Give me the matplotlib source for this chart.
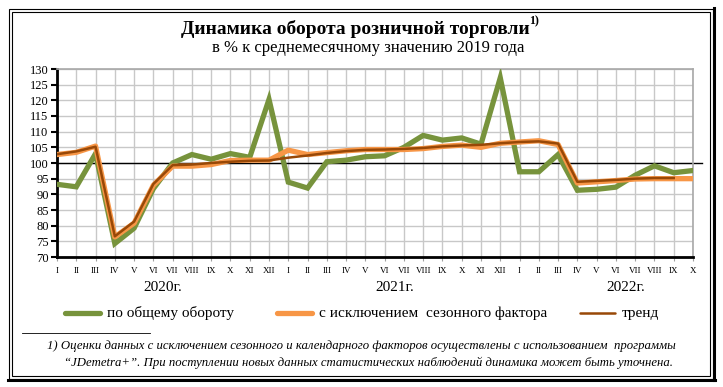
import matplotlib
matplotlib.use("Agg")
import matplotlib.pyplot as plt
from matplotlib.lines import Line2D
from matplotlib.patches import Rectangle

plt.rcParams['font.family'] = ['Liberation Serif', 'DejaVu Serif']

# months I 2020 .. X 2022
months = ["I", "II", "III", "IV", "V", "VI", "VII", "VIII", "IX", "X", "XI", "XII"]
tick_labels = months + months + months[:10]
years = ["2020г.", "2021г.", "2022г."]

total = [93.2, 92.4, 103.0, 74.3, 79.2, 91.8, 100.0, 102.7, 101.2, 103.0, 101.8, 120.3,
         93.9, 92.0, 100.4, 100.9, 102.0, 102.3, 105.0, 108.8, 107.3, 108.0, 106.0, 127.2,
         97.2, 97.2, 102.7, 91.3, 91.6, 92.3, 96.1, 99.1, 96.9, 97.6]
seasonal = [102.7, 103.4, 105.4, 76.4, 80.8, 92.9, 99.0, 99.0, 99.5, 100.8, 100.9, 100.9,
            104.1, 102.7, 103.3, 103.9, 104.3, 104.3, 104.3, 104.6, 105.3, 105.7, 105.0, 106.3,
            106.7, 107.1, 105.9, 93.6, 94.0, 94.4, 94.9, 95.0, 95.0, 95.0]
trend = [102.8, 103.7, 105.2, 76.6, 81.3, 93.3, 99.3, 99.5, 100.0, 100.4, 100.7, 100.8,
         101.7, 102.4, 103.2, 103.8, 104.2, 104.3, 104.5, 104.8, 105.3, 105.6, 105.8, 106.3,
         106.7, 106.9, 106.2, 94.0, 94.3, 94.6, 95.0, 95.2, 95.2]

GREEN = "#77933C"
ORANGE = "#F79646"
BROWN = "#984807"

fig = plt.figure(figsize=(7.23, 3.87), dpi=100)
ax = fig.add_axes([57 / 723, 1 - 257 / 387, 636 / 723, 188 / 387])

x = list(range(len(total)))
ax.plot(x, total, color=GREEN, lw=3.8, solid_joinstyle='miter', zorder=3)
ax.plot(x, seasonal, color=ORANGE, lw=3.8, zorder=4)
ax.plot(range(len(trend)), trend, color=BROWN, lw=1.8, zorder=5)

ax.plot([0, 33.45], [100, 100], color='black', lw=1.0, clip_on=False, zorder=2)

ax.set_xlim(0, len(total) - 1)
ax.set_ylim(70, 130)
ax.set_yticks(range(70, 131, 5))
ax.set_xticks(x)
ax.set_xticklabels(tick_labels, fontsize=6.5)
ax.tick_params(axis='x', length=3, color='#A0A0A0', pad=4)
ax.tick_params(axis='y', length=4, width=1.5, labelsize=9, pad=2)
ax.grid(True, color='#C8C8C8', lw=1.0, zorder=0)
ax.set_axisbelow(True)
for s in ['top', 'right']:
    ax.spines[s].set_color('#A8A8A8')
    ax.spines[s].set_linewidth(1.2)
for s in ['left', 'bottom']:
    ax.spines[s].set_color('black')
    ax.spines[s].set_linewidth(2.0)

# year labels
for i, yr in enumerate(years):
    ax.text(5.5 + 12 * i, -0.16, yr, transform=ax.get_xaxis_transform(),
            ha='center', va='center', fontsize=11)

# titles
fig.text(355 / 723, 1 - 29 / 387, "Динамика оборота розничной торговли",
         ha='center', va='center', fontsize=14, fontweight='bold')
fig.text(529 / 723, 1 - 21 / 387, "1)", ha='left', va='center',
         fontsize=8.5, fontweight='bold')
fig.text(368 / 723, 1 - 48 / 387, "в % к среднемесячному значению 2019 года",
         ha='center', va='center', fontsize=12)

# legend
leg_y = 1 - 313 / 387
entries = [(GREEN, 3.8, 65, "по общему обороту"),
           (ORANGE, 3.8, 277, "с исключением  сезонного фактора"),
           (BROWN, 1.8, 580, "тренд")]
for color, lw, x0, label in entries:
    fig.add_artist(Line2D([x0 / 723, (x0 + 35) / 723], [leg_y, leg_y],
                          color=color, lw=lw, solid_capstyle='round'))
    fig.text((x0 + 42) / 723, leg_y, label, ha='left', va='center', fontsize=11)

# footnote
fig.add_artist(Line2D([22 / 723, 150 / 723], [1 - 333 / 387, 1 - 333 / 387],
                      color='black', lw=0.6))
fig.text(361 / 723, 1 - 346 / 387,
         "1) Оценки данных с исключением сезонного и календарного факторов осуществлены с использованием  программы",
         ha='center', va='center', fontsize=9.2, style='italic')
fig.text(368 / 723, 1 - 363 / 387,
         "“JDemetra+”. При поступлении новых данных статистических наблюдений динамика может быть уточнена.",
         ha='center', va='center', fontsize=9.2, style='italic')

# double frame around the figure
fig.add_artist(Rectangle((8.5 / 723, 1 - 379 / 387), 704 / 723, 370.5 / 387,
                         fill=False, ec='black', lw=0.8, transform=fig.transFigure))
fig.add_artist(Rectangle((11.5 / 723, 1 - 376 / 387), 698 / 723, 364.5 / 387,
                         fill=False, ec='black', lw=0.8, transform=fig.transFigure))
fig.add_artist(Line2D([713.5 / 723, 713.5 / 723], [1 - 380 / 387, 1 - 8 / 387],
                      color='black', lw=2.2))
fig.add_artist(Line2D([8 / 723, 714.5 / 723], [1 - 379.5 / 387, 1 - 379.5 / 387],
                      color='black', lw=2.2))

fig.savefig("out.png", dpi=100)
